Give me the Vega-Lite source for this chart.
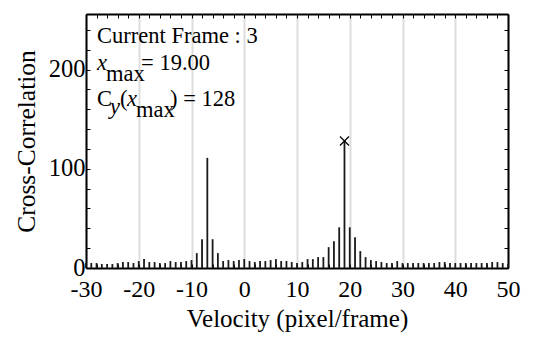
{
  "$schema": "https://vega.github.io/schema/vega-lite/v6.json",
  "width": 422,
  "height": 254,
  "autosize": {"type": "none"},
  "padding": {"left": 86, "top": 14, "right": 31, "bottom": 70},
  "background": "white",
  "config": {
    "view": {"stroke": null},
    "font": "Liberation Serif",
    "axis": {
      "labelFont": "Liberation Serif",
      "titleFont": "Liberation Serif",
      "labelColor": "black",
      "titleColor": "black",
      "titleFontWeight": "normal",
      "domainColor": "black",
      "domainWidth": 2,
      "tickColor": "black",
      "tickWidth": 1,
      "tickSize": -4,
      "labelOverlap": false,
      "labelFlush": false
    },
    "text": {"font": "Liberation Serif", "fontSize": 22.5, "color": "black", "align": "left", "baseline": "alphabetic"}
  },
  "data": {
    "values": [
      {"v": -30, "c": 5}, {"v": -29, "c": 5}, {"v": -28, "c": 5}, {"v": -27, "c": 4}, {"v": -26, "c": 4},
      {"v": -25, "c": 4}, {"v": -24, "c": 5}, {"v": -23, "c": 6}, {"v": -22, "c": 6}, {"v": -21, "c": 5},
      {"v": -20, "c": 7}, {"v": -19, "c": 9}, {"v": -18, "c": 6}, {"v": -17, "c": 6}, {"v": -16, "c": 5},
      {"v": -15, "c": 5}, {"v": -14, "c": 7}, {"v": -13, "c": 6}, {"v": -12, "c": 6}, {"v": -11, "c": 7},
      {"v": -10, "c": 8}, {"v": -9, "c": 15}, {"v": -8, "c": 29}, {"v": -7, "c": 111}, {"v": -6, "c": 29},
      {"v": -5, "c": 15}, {"v": -4, "c": 7}, {"v": -3, "c": 8}, {"v": -2, "c": 7}, {"v": -1, "c": 8},
      {"v": 0, "c": 9}, {"v": 1, "c": 7}, {"v": 2, "c": 6}, {"v": 3, "c": 7}, {"v": 4, "c": 7},
      {"v": 5, "c": 8}, {"v": 6, "c": 9}, {"v": 7, "c": 7}, {"v": 8, "c": 7}, {"v": 9, "c": 6},
      {"v": 10, "c": 5}, {"v": 11, "c": 6}, {"v": 12, "c": 9}, {"v": 13, "c": 9}, {"v": 14, "c": 11},
      {"v": 15, "c": 11}, {"v": 16, "c": 21}, {"v": 17, "c": 27}, {"v": 18, "c": 41}, {"v": 19, "c": 128},
      {"v": 20, "c": 41}, {"v": 21, "c": 31}, {"v": 22, "c": 17}, {"v": 23, "c": 11}, {"v": 24, "c": 8},
      {"v": 25, "c": 7}, {"v": 26, "c": 6}, {"v": 27, "c": 5}, {"v": 28, "c": 5}, {"v": 29, "c": 7},
      {"v": 30, "c": 5}, {"v": 31, "c": 5}, {"v": 32, "c": 5}, {"v": 33, "c": 5}, {"v": 34, "c": 5},
      {"v": 35, "c": 5}, {"v": 36, "c": 5}, {"v": 37, "c": 6}, {"v": 38, "c": 6}, {"v": 39, "c": 5},
      {"v": 40, "c": 5}, {"v": 41, "c": 5}, {"v": 42, "c": 5}, {"v": 43, "c": 5}, {"v": 44, "c": 5},
      {"v": 45, "c": 5}, {"v": 46, "c": 5}, {"v": 47, "c": 6}, {"v": 48, "c": 6}, {"v": 49, "c": 5},
      {"v": 50, "c": 4}
    ]
  },
  "resolve": {"axis": {"x": "independent", "y": "independent"}},
  "layer": [
    {
      "mark": {"type": "rule", "color": "#1a1a1a", "strokeWidth": 1.8},
      "encoding": {
        "x": {
          "field": "v", "type": "quantitative",
          "scale": {"domain": [-30, 50], "nice": false, "zero": false},
          "axis": {
            "orient": "bottom",
            "values": [-30,-28,-26,-24,-22,-20,-18,-16,-14,-12,-10,-8,-6,-4,-2,0,2,4,6,8,10,12,14,16,18,20,22,24,26,28,30,32,34,36,38,40,42,44,46,48,50],
            "labelExpr": "datum.value % 10 === 0 ? toString(datum.value) : ''",
            "labelFontSize": 24,
            "labelPadding": 13,
            "title": "Velocity (pixel/frame)",
            "titleFontSize": 25,
            "titlePadding": 5,
            "grid": true,
            "gridWidth": 2,
            "gridColor": {"condition": {"test": "datum.value % 10 === 0", "value": "#dddddd"}, "value": "transparent"}
          }
        },
        "y": {
          "field": "c", "type": "quantitative",
          "scale": {"domain": [0, 256], "nice": false},
          "axis": {
            "orient": "left",
            "values": [0,20,40,60,80,100,120,140,160,180,200,220,240],
            "labelExpr": "datum.value % 100 === 0 ? toString(datum.value) : ''",
            "labelFontSize": 24.5,
            "labelPadding": 5,
            "title": "Cross-Correlation",
            "titleFontSize": 25.5,
            "titlePadding": 9,
            "grid": false
          }
        },
        "y2": {"datum": 0}
      }
    },
    {
      "mark": {"type": "rule", "opacity": 0},
      "encoding": {
        "x": {
          "field": "v", "type": "quantitative",
          "axis": {
            "orient": "top",
            "values": [-30,-28,-26,-24,-22,-20,-18,-16,-14,-12,-10,-8,-6,-4,-2,0,2,4,6,8,10,12,14,16,18,20,22,24,26,28,30,32,34,36,38,40,42,44,46,48,50],
            "labels": false, "title": null, "grid": false
          }
        },
        "y": {
          "field": "c", "type": "quantitative",
          "axis": {
            "orient": "right",
            "values": [0,20,40,60,80,100,120,140,160,180,200,220,240],
            "labels": false, "title": null, "grid": false
          }
        },
        "y2": {"datum": 0}
      }
    },
    {
      "transform": [{"filter": "datum.v === 19"}],
      "mark": {"type": "point", "shape": "M-1,-1L1,1M-1,1L1,-1", "filled": false, "stroke": "black", "strokeWidth": 1.2, "size": 81, "opacity": 1},
      "encoding": {
        "x": {"field": "v", "type": "quantitative", "axis": null},
        "y": {"field": "c", "type": "quantitative", "axis": null}
      }
    },
    {
      "data": {"values": [{}]},
      "mark": {"type": "text", "text": "Current Frame : 3"},
      "encoding": {"x": {"datum": -27.9, "type": "quantitative", "axis": null}, "y": {"datum": 226.8, "type": "quantitative", "axis": null}}
    },
    {
      "data": {"values": [{}]},
      "mark": {"type": "text", "text": "x", "fontStyle": "italic"},
      "encoding": {"x": {"datum": -27.9, "type": "quantitative", "axis": null}, "y": {"datum": 199.6, "type": "quantitative", "axis": null}}
    },
    {
      "data": {"values": [{}]},
      "mark": {"type": "text", "text": "max", "dx": 9, "dy": 11},
      "encoding": {"x": {"datum": -27.9, "type": "quantitative", "axis": null}, "y": {"datum": 199.6, "type": "quantitative", "axis": null}}
    },
    {
      "data": {"values": [{}]},
      "mark": {"type": "text", "text": "= 19.00", "dx": 44},
      "encoding": {"x": {"datum": -27.9, "type": "quantitative", "axis": null}, "y": {"datum": 199.6, "type": "quantitative", "axis": null}}
    },
    {
      "data": {"values": [{}]},
      "mark": {"type": "text", "text": "C"},
      "encoding": {"x": {"datum": -27.9, "type": "quantitative", "axis": null}, "y": {"datum": 163.3, "type": "quantitative", "axis": null}}
    },
    {
      "data": {"values": [{}]},
      "mark": {"type": "text", "text": "y", "fontStyle": "italic", "dx": 13, "dy": 8},
      "encoding": {"x": {"datum": -27.9, "type": "quantitative", "axis": null}, "y": {"datum": 163.3, "type": "quantitative", "axis": null}}
    },
    {
      "data": {"values": [{}]},
      "mark": {"type": "text", "text": "(", "dx": 23},
      "encoding": {"x": {"datum": -27.9, "type": "quantitative", "axis": null}, "y": {"datum": 163.3, "type": "quantitative", "axis": null}}
    },
    {
      "data": {"values": [{}]},
      "mark": {"type": "text", "text": "x", "fontStyle": "italic", "dx": 30},
      "encoding": {"x": {"datum": -27.9, "type": "quantitative", "axis": null}, "y": {"datum": 163.3, "type": "quantitative", "axis": null}}
    },
    {
      "data": {"values": [{}]},
      "mark": {"type": "text", "text": "max", "dx": 39, "dy": 11},
      "encoding": {"x": {"datum": -27.9, "type": "quantitative", "axis": null}, "y": {"datum": 163.3, "type": "quantitative", "axis": null}}
    },
    {
      "data": {"values": [{}]},
      "mark": {"type": "text", "text": ") = 128", "dx": 73},
      "encoding": {"x": {"datum": -27.9, "type": "quantitative", "axis": null}, "y": {"datum": 163.3, "type": "quantitative", "axis": null}}
    }
  ]
}
